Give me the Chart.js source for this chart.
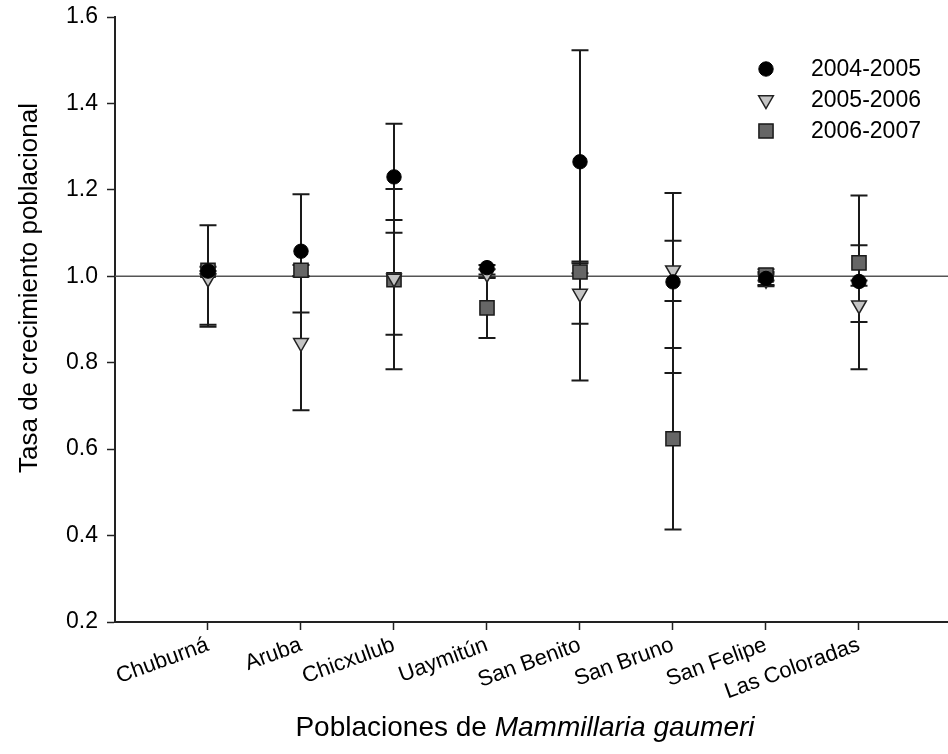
<!DOCTYPE html>
<html>
<head>
<meta charset="utf-8">
<script src="https://cdn.jsdelivr.net/npm/chart.js@4.4.1/dist/chart.umd.min.js"></script>
<style>
  html, body { margin: 0; padding: 0; background: #fff; }
  #wrap { position: relative; width: 948px; height: 754px; overflow: hidden; }
  #c { display: block; }
  #xtitle { position: absolute; left: 0; width: 1050px; top: 711px; text-align: center; line-height: 32px;
            font-family: "Liberation Sans", Arial, sans-serif; font-size: 28px; color: #000; }
</style>
</head>
<body>
<div id="wrap">
  <canvas id="c" width="948" height="754"></canvas>
  <div id="xtitle">Poblaciones de <i>Mammillaria gaumeri</i></div>
</div>
<script>
// ---- data ----
const categories = ['Chuburná','Aruba','Chicxulub','Uaymitún','San Benito','San Bruno','San Felipe','Las Coloradas'];
const seriesNames = ['2004-2005','2005-2006','2006-2007'];

const s0405   = [1.012, 1.058, 1.230, 1.020, 1.265, 0.987, 0.995, 0.988];
const s0405Lo = [0.883, 0.916, 1.101, 1.004, 1.007, 0.776, 0.980, 0.785];
const s0405Hi = [1.118, 1.190, 1.353, 1.026, 1.523, 1.193, 1.010, 1.187];

const s0506   = [0.995, 0.846, 0.995, 1.006, 0.960, 1.014, 0.992, 0.933];
const s0506Lo = [0.888, 0.690, 0.785, 0.996, 0.759, 0.943, 0.977, 0.894];
const s0506Hi = [1.012, 1.000, 1.202, 1.016, 1.030, 1.082, 1.006, 0.978];

const s0607   = [1.014, 1.014, 0.992, 0.927, 1.010, 0.624, 1.003, 1.031];
const s0607Lo = [1.006, 1.000, 0.865, 0.857, 0.890, 0.414, 0.990, 0.990];
const s0607Hi = [1.022, 1.026, 1.130, 0.997, 1.034, 0.834, 1.016, 1.072];

const yTicks = [0.2, 0.4, 0.6, 0.8, 1.0, 1.2, 1.4, 1.6];
const yTitle = 'Tasa de crecimiento poblacional';

const FONT = '"Liberation Sans", Arial, sans-serif';

function pts(vals, lo, hi) {
  return vals.map((v, i) => ({ x: i, y: v, lo: lo[i], hi: hi[i] }));
}

// let the x axis run to the right edge of the canvas, as in the reference
const fullWidth = {
  id: 'fullWidth',
  afterLayout(chart) {
    const xs = chart.scales.x;
    chart.chartArea.right = chart.width;
    chart.chartArea.width = chart.chartArea.right - chart.chartArea.left;
    xs.right = chart.width;
    xs.width = xs.right - xs.left;
    xs.configure();
    xs._gridLineItems = null;
    xs._labelItems = null;
  }
};

const errorBars = {
  id: 'errorBars',
  beforeDatasetsDraw(chart) {
    const ctx = chart.ctx, ys = chart.scales.y, xs = chart.scales.x;
    ctx.save();
    ctx.strokeStyle = '#1a1a1a';
    ctx.lineWidth = 2;
    chart.data.datasets.forEach(ds => {
      ds.data.forEach(p => {
        const x = xs.getPixelForValue(p.x);
        const y1 = ys.getPixelForValue(p.lo), y2 = ys.getPixelForValue(p.hi);
        ctx.beginPath();
        ctx.moveTo(x, y1); ctx.lineTo(x, y2);
        ctx.moveTo(x - 8.5, y1); ctx.lineTo(x + 8.5, y1);
        ctx.moveTo(x - 8.5, y2); ctx.lineTo(x + 8.5, y2);
        ctx.stroke();
      });
    });
    ctx.restore();
  }
};

const refLine = {
  id: 'refLine',
  beforeDatasetsDraw(chart) {
    const ctx = chart.ctx, ys = chart.scales.y, a = chart.chartArea;
    const y = ys.getPixelForValue(1.0);
    ctx.save();
    ctx.strokeStyle = '#555';
    ctx.lineWidth = 1.5;
    ctx.beginPath(); ctx.moveTo(a.left, y); ctx.lineTo(a.right, y); ctx.stroke();
    ctx.restore();
  }
};

const yAxisTitle = {
  id: 'yAxisTitle',
  afterDraw(chart) {
    const ctx = chart.ctx;
    ctx.save();
    ctx.translate(30, 288);
    ctx.rotate(-Math.PI / 2);
    ctx.fillStyle = '#000';
    ctx.font = '26px ' + FONT;
    ctx.textAlign = 'center';
    ctx.textBaseline = 'middle';
    ctx.fillText(yTitle, 0, 0);
    ctx.restore();
  }
};

const customLegend = {
  id: 'customLegend',
  afterDraw(chart) {
    const ctx = chart.ctx;
    const rows = [69, 100, 131];
    ctx.save();
    chart.data.datasets.forEach((ds, i) => {
      ctx.fillStyle = ds.pointBackgroundColor;
      ctx.strokeStyle = ds.pointBorderColor;
      ctx.lineWidth = ds.pointBorderWidth;
      Chart.helpers.drawPoint(ctx, { pointStyle: ds.pointStyle, radius: ds.pointRadius, rotation: ds.pointRotation || 0, borderWidth: ds.pointBorderWidth }, 766, rows[i]);
      ctx.fillStyle = '#000';
      ctx.font = '23px ' + FONT;
      ctx.textBaseline = 'middle';
      ctx.textAlign = 'left';
      ctx.fillText(ds.label, 811, rows[i] + 1);
    });
    ctx.restore();
  }
};

new Chart(document.getElementById('c'), {
  type: 'scatter',
  data: {
    datasets: [
      { label: seriesNames[0], data: pts(s0405, s0405Lo, s0405Hi), pointStyle: 'circle', pointRadius: 7.2,
        pointBackgroundColor: '#000', pointBorderColor: '#000', pointBorderWidth: 1, showLine: false },
      { label: seriesNames[1], data: pts(s0506, s0506Lo, s0506Hi), pointStyle: 'triangle', pointRotation: 180, pointRadius: 8.5,
        pointBackgroundColor: '#c4c4c4', pointBorderColor: '#222', pointBorderWidth: 1.5, showLine: false },
      { label: seriesNames[2], data: pts(s0607, s0607Lo, s0607Hi), pointStyle: 'rect', pointRadius: 10,
        pointBackgroundColor: '#666', pointBorderColor: '#1a1a1a', pointBorderWidth: 1.5, showLine: false }
    ]
  },
  options: {
    responsive: false,
    animation: false,
    layout: { padding: { top: 17, right: 0, left: 0, bottom: 0 } },
    plugins: { legend: { display: false }, tooltip: { enabled: false } },
    scales: {
      x: {
        type: 'linear', min: -1, max: 7.957,
        afterBuildTicks: s => { s.ticks = categories.map((_, i) => ({ value: i })); },
        afterFit: s => { s.height = 132; s.paddingLeft = 0; s.paddingRight = 0; },
        border: { color: '#222', width: 2 },
        grid: { drawOnChartArea: false, tickLength: 8, tickColor: '#222', tickWidth: 1.5 },
        ticks: {
          autoSkip: false, minRotation: 20, maxRotation: 20, padding: 2,
          color: '#000', font: { family: FONT, size: 22 },
          callback: v => categories[v] !== undefined ? categories[v] : ''
        }
      },
      y: {
        min: 0.2, max: 1.6,
        afterBuildTicks: s => { s.ticks = yTicks.map(v => ({ value: v })); },
        afterFit: s => { s.width = 115; s.paddingTop = 0; s.paddingBottom = 0; },
        border: { color: '#222', width: 2 },
        grid: { drawOnChartArea: false, tickLength: 8, tickColor: '#222', tickWidth: 1.5 },
        ticks: { color: '#000', padding: 9, font: { family: FONT, size: 23 }, callback: v => Number(v).toFixed(1) },
        title: { display: false }
      }
    }
  },
  plugins: [fullWidth, refLine, errorBars, customLegend, yAxisTitle]
});
</script>
</body>
</html>
